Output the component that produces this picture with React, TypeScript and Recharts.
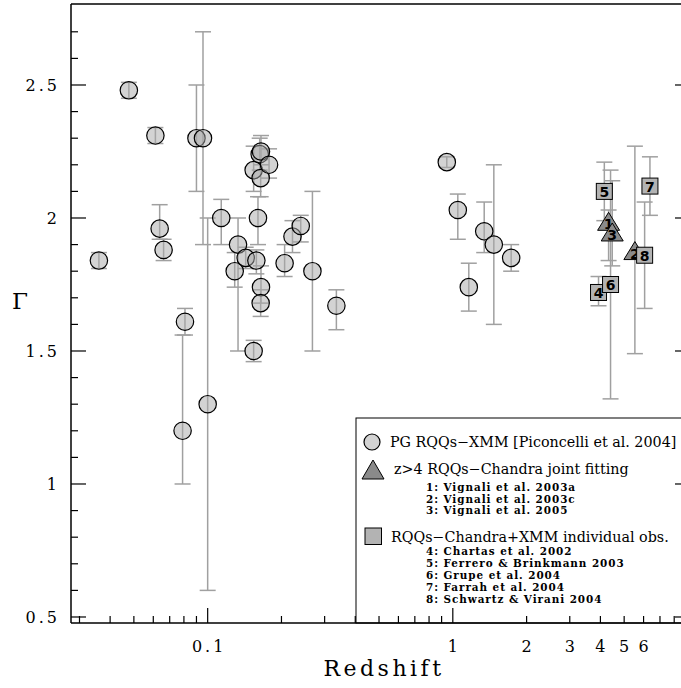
import { ScatterChart, Scatter, XAxis, YAxis, ErrorBar } from "recharts";

// PG RQQs - XMM (Piconcelli et al. 2004)
const pgZ = [0.036, 0.0477, 0.0612, 0.0637, 0.0661, 0.09, 0.0957, 0.0808, 0.079, 0.1, 0.1136, 0.133, 0.1289, 0.1429, 0.154, 0.158, 0.1604, 0.163, 0.165, 0.1645, 0.178, 0.165, 0.1645, 0.154, 0.206, 0.2218, 0.2397, 0.2675, 0.335, 0.945, 1.048, 1.162, 1.343, 1.47, 1.73];
const pgGamma = [1.84, 2.48, 2.31, 1.96, 1.88, 2.3, 2.3, 1.61, 1.2, 1.3, 2.0, 1.9, 1.8, 1.85, 2.18, 1.84, 2.0, 2.24, 2.25, 2.15, 2.2, 1.74, 1.68, 1.5, 1.83, 1.93, 1.97, 1.8, 1.67, 2.21, 2.03, 1.74, 1.95, 1.9, 1.85];
const pgErrLo = [0.03, 0.03, 0.03, 0.04, 0.04, 0.2, 0.4, 0.05, 0.2, 0.7, 0.1, 0.4, 0.06, 0.04, 0.08, 0.05, 0.1, 0.06, 0.05, 0.07, 0.05, 0.06, 0.05, 0.04, 0.05, 0.06, 0.06, 0.3, 0.09, 0.02, 0.11, 0.09, 0.08, 0.3, 0.05];
const pgErrHi = [0.03, 0.03, 0.03, 0.09, 0.04, 0.2, 0.4, 0.05, 0.36, 0.7, 0.07, 0.1, 0.07, 0.04, 0.09, 0.04, 0.08, 0.06, 0.06, 0.07, 0.06, 0.08, 0.05, 0.04, 0.07, 0.06, 0.04, 0.3, 0.06, 0.02, 0.06, 0.09, 0.11, 0.3, 0.05];

// z>4 RQQs - Chandra joint fitting
const triId = [1, 2, 3];
const triZ = [4.32, 5.53, 4.47];
const triGamma = [1.98, 1.87, 1.94];
const triErrLo = [0.14, 0.38, 0.12];
const triErrHi = [0.05, 0.4, 0.2];

// RQQs - Chandra+XMM individual obs.
const sqId = [4, 5, 6, 7, 8];
const sqZ = [3.93, 4.15, 4.4, 6.37, 6.06];
const sqGamma = [1.72, 2.1, 1.75, 2.12, 1.86];
const sqErrLo = [0.05, 0.11, 0.43, 0.11, 0.2];
const sqErrHi = [0.06, 0.11, 0.43, 0.11, 0.2];

const xTicks = [0.03, 0.04, 0.05, 0.06, 0.07, 0.08, 0.09, 0.1, 0.2, 0.3, 0.4, 0.5, 0.6, 0.7, 0.8, 0.9, 1, 2, 3, 4, 5, 6, 7, 8, 9];
const xMajor = [0.1, 1];
const xLabels = [0.1, 1, 2, 3, 4, 5, 6];
const yTicks = [0.5, 0.6, 0.7, 0.8, 0.9, 1, 1.1, 1.2, 1.3, 1.4, 1.5, 1.6, 1.7, 1.8, 1.9, 2, 2.1, 2.2, 2.3, 2.4, 2.5, 2.6, 2.7];
const yMajor = [0.5, 1, 1.5, 2, 2.5];

const triEntries = ["1: Vignali et al. 2003a", "2: Vignali et al. 2003c", "3: Vignali et al. 2005"];
const sqEntries = ["4: Chartas et al. 2002", "5: Ferrero & Brinkmann 2003", "6: Grupe et al. 2004", "7: Farrah et al. 2004", "8: Schwartz & Virani 2004"];

const pgData = pgZ.map((z, i) => ({ z, g: pgGamma[i], err: [pgErrLo[i], pgErrHi[i]] }));
const triData = triZ.map((z, i) => ({ z, g: triGamma[i], err: [triErrLo[i], triErrHi[i]], id: triId[i] }));
const sqData = sqZ.map((z, i) => ({ z, g: sqGamma[i], err: [sqErrLo[i], sqErrHi[i]], id: sqId[i] }));

const SERIF = "DejaVu Serif";
const isIn = (arr: number[], v: number) => arr.some(a => Math.abs(a - v) < 1e-9);

const BottomTick = (props: any) => {
    const { x, y, payload } = props;
    const v = payload.value;
    const len = isIn(xMajor, v) ? 15 : 7;
    return (
        <g>
            <line x1={x} y1={y} x2={x} y2={y - len} stroke="#000" strokeWidth={1.2} />
            {isIn(xLabels, v) && (
                <text x={x + 1.5} y={y + 29} textAnchor="middle" fontFamily={SERIF} fontSize={16} letterSpacing={3} fill="#000">{String(v)}</text>
            )}
        </g>
    );
};

const TopTick = (props: any) => {
    const { x, y, payload } = props;
    const len = isIn(xMajor, payload.value) ? 15 : 7;
    return <line x1={x} y1={y} x2={x} y2={y + len} stroke="#000" strokeWidth={1.2} />;
};

const LeftTick = (props: any) => {
    const { x, y, payload } = props;
    const v = payload.value;
    const major = isIn(yMajor, v);
    return (
        <g>
            <line x1={x} y1={y} x2={x + (major ? 15 : 7)} y2={y} stroke="#000" strokeWidth={1.2} />
            {major && (
                <text x={x - 11} y={y + 6} textAnchor="end" fontFamily={SERIF} fontSize={16} letterSpacing={3} fill="#000">{String(v)}</text>
            )}
        </g>
    );
};

const RightTick = (props: any) => {
    const { x, y, payload } = props;
    const len = isIn(yMajor, payload.value) ? 15 : 7;
    return <line x1={x} y1={y} x2={x - len} y2={y} stroke="#000" strokeWidth={1.2} />;
};

const CircleShape = (p: any) => (
    <circle cx={p.cx} cy={p.cy} r={8.7} fill="#a8a8a8" fillOpacity={0.5} stroke="#000" strokeWidth={1.2} />
);

const TriangleShape = (p: any) => (
    <g>
        <polygon points={`${p.cx},${p.cy - 11} ${p.cx - 11},${p.cy + 7} ${p.cx + 11},${p.cy + 7}`} fill="#8a8a8a" stroke="#000" strokeWidth={1} />
        <text x={p.cx} y={p.cy + 6} textAnchor="middle" fontFamily="DejaVu Sans" fontWeight="bold" fontSize={14} fill="#000">{p.payload.id}</text>
    </g>
);

const SquareShape = (p: any) => (
    <g>
        <rect x={p.cx - 8} y={p.cy - 8} width={16} height={16} fill="#b3b3b3" stroke="#000" strokeWidth={1} />
        <text x={p.cx} y={p.cy + 5.5} textAnchor="middle" fontFamily="DejaVu Sans" fontWeight="bold" fontSize={14} fill="#000">{p.payload.id}</text>
    </g>
);

const X_DOMAIN = [0.0277, 9.28];
const Y_DOMAIN = [0.4774, 2.8045];

const App = () => {
    return (
        <div style={{ position: "absolute", left: 0, top: 0, width: 681, height: 688, overflow: "hidden", background: "#fff" }}>
            <svg width={681} height={688} style={{ position: "absolute", left: 0, top: 0 }}>
                <text x={20} y={309} textAnchor="middle" fontFamily={SERIF} fontSize={23} fill="#000">Γ</text>
                <text x={384} y={676} textAnchor="middle" fontFamily={SERIF} fontSize={22} letterSpacing={3.5} fill="#000">Redshift</text>
                <rect x={356} y={418} width={340} height={205} fill="#fff" stroke="#000" strokeWidth={1} />
                <circle cx={372} cy={442} r={8} fill="#d3d3d3" stroke="#000" strokeWidth={1.2} />
                <text x={390} y={447} fontFamily={SERIF} fontSize={14.3} fill="#000">PG RQQs−XMM [Piconcelli et al. 2004]</text>
                <polygon points="373,460 362,479 384,479" fill="#8a8a8a" stroke="#000" strokeWidth={1} />
                <text x={394} y={474} fontFamily={SERIF} fontSize={14.3} fill="#000">z&gt;4 RQQs−Chandra joint fitting</text>
                {triEntries.map((t, i) => (
                    <text key={t} x={426} y={491 + i * 11.5} fontFamily={SERIF} fontWeight="bold" fontSize={10.4} letterSpacing={0.95} fill="#000">{t}</text>
                ))}
                <rect x={365} y={528} width={16.5} height={16.5} fill="#b3b3b3" stroke="#000" strokeWidth={1} />
                <text x={391} y={542} fontFamily={SERIF} fontSize={14.3} fill="#000">RQQs−Chandra+XMM individual obs.</text>
                {sqEntries.map((t, i) => (
                    <text key={t} x={426} y={555 + i * 12} fontFamily={SERIF} fontWeight="bold" fontSize={10.4} letterSpacing={0.95} fill="#000">{t}</text>
                ))}
            </svg>
            <div style={{ position: "absolute", left: 0, top: 0 }}>
                <ScatterChart width={691} height={688} margin={{ top: 3, right: 0, bottom: 0, left: 0 }}>
                    <XAxis xAxisId="b" dataKey="z" type="number" scale="log" domain={X_DOMAIN} allowDataOverflow ticks={xTicks} interval={0}
                        height={65} tickLine={false} tickSize={0} tickMargin={0} tick={<BottomTick />} axisLine={{ stroke: "#000", strokeWidth: 1.5 }} />
                    <XAxis xAxisId="t" orientation="top" type="number" scale="log" domain={X_DOMAIN} allowDataOverflow ticks={xTicks} interval={0}
                        height={1} tickLine={false} tickSize={0} tickMargin={0} tick={<TopTick />} axisLine={{ stroke: "#000", strokeWidth: 1.5 }} />
                    <YAxis yAxisId="l" dataKey="g" type="number" domain={Y_DOMAIN} allowDataOverflow ticks={yTicks} interval={0}
                        width={71} tickLine={false} tickSize={0} tickMargin={0} tick={<LeftTick />} axisLine={{ stroke: "#000", strokeWidth: 1.5 }} />
                    <YAxis yAxisId="r" orientation="right" type="number" domain={Y_DOMAIN} allowDataOverflow ticks={yTicks} interval={0}
                        width={1} tickLine={false} tickSize={0} tickMargin={0} tick={<RightTick />} axisLine={{ stroke: "#000", strokeWidth: 1.5 }} />
                    <Scatter xAxisId="b" yAxisId="l" data={pgData} shape={CircleShape} isAnimationActive={false}>
                        <ErrorBar dataKey="err" direction="y" width={8} stroke="#a0a0a0" strokeWidth={1.5} />
                    </Scatter>
                    <Scatter xAxisId="b" yAxisId="l" data={triData} shape={TriangleShape} isAnimationActive={false}>
                        <ErrorBar dataKey="err" direction="y" width={8} stroke="#a0a0a0" strokeWidth={1.5} />
                    </Scatter>
                    <Scatter xAxisId="b" yAxisId="l" data={sqData} shape={SquareShape} isAnimationActive={false}>
                        <ErrorBar dataKey="err" direction="y" width={8} stroke="#a0a0a0" strokeWidth={1.5} />
                    </Scatter>
                </ScatterChart>
            </div>
        </div>
    );
};

export default App;
